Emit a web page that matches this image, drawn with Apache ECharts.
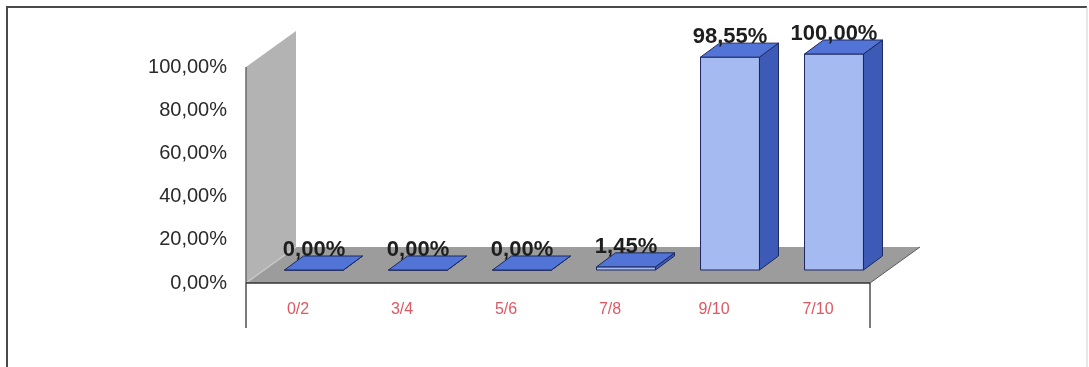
<!DOCTYPE html>
<html>
<head>
<meta charset="utf-8">
<script src="https://cdn.jsdelivr.net/npm/echarts@6/dist/echarts.min.js"></script>
<style>
  html, body { margin: 0; padding: 0; background: #fff; }
  #chart { width: 1089px; height: 367px; }
</style>
</head>
<body>
<div id="chart"></div>
<script>
// Share of students per grade band
const categories = ['0/2', '3/4', '5/6', '7/8', '9/10', '7/10'];
const shares = [0, 0, 0, 1.45, 98.55, 100];
const yTicks = [0, 20, 40, 60, 80, 100];

const fmt = v => v.toFixed(2).replace('.', ',') + '%';

// Oblique projection: how far the "depth" axis shifts things on screen
const WALL_DEPTH = [50, -36];   // full depth of the side wall / floor
const BAR_FRONT = [16, -13];    // bars sit a bit behind the front edge
const BAR_DEPTH = [19, -14];    // thickness of each bar
const BAR_RATIO = 0.567;        // bar width as a share of the category band

const chart = echarts.init(document.getElementById('chart'));

// Side wall, floor and the open box under the floor
function renderFrame(params, api) {
  const cs = params.coordSys;
  const y0 = api.coord([0, yTicks[0]])[1];
  const yTop = api.coord([0, yTicks[yTicks.length - 1]])[1];
  const xL = cs.x, xR = cs.x + cs.width;
  const [dx, dy] = WALL_DEPTH;
  const yLow = y0 + 45;
  return {
    type: 'group',
    children: [
      { type: 'polygon', shape: { points: [[xL, y0], [xL, yTop], [xL + dx, yTop + dy], [xL + dx, y0 + dy]] },
        style: { fill: '#b3b3b3', stroke: null } },
      { type: 'polygon', shape: { points: [[xL, y0], [xR, y0], [xR + dx, y0 + dy], [xL + dx, y0 + dy]] },
        style: { fill: '#9c9c9c', stroke: null } },
      { type: 'line', shape: { x1: xL, y1: y0, x2: xL + dx, y2: y0 + dy },
        style: { stroke: '#c9c9c9', lineWidth: 1.5 } },
      { type: 'line', shape: { x1: xR, y1: y0, x2: xR + dx, y2: y0 + dy },
        style: { stroke: '#5a5a5a', lineWidth: 1 } },
      { type: 'line', shape: { x1: xL, y1: yTop, x2: xL, y2: y0 },
        style: { stroke: '#6a6a6a', lineWidth: 1.5 } },
      { type: 'line', shape: { x1: xL, y1: y0, x2: xR, y2: y0 },
        style: { stroke: '#333', lineWidth: 1.5 } },
      { type: 'line', shape: { x1: xL, y1: y0, x2: xL, y2: yLow },
        style: { stroke: '#222', lineWidth: 1.2 } },
      { type: 'line', shape: { x1: xR, y1: y0, x2: xR, y2: yLow },
        style: { stroke: '#222', lineWidth: 1.2 } }
    ]
  };
}

// One prism per category, value label above its front face
function renderBar(params, api) {
  const idx = api.value(0);
  const v = api.value(1);
  const base = api.coord([idx, 0]);
  const top = api.coord([idx, v]);
  const w = api.size([1, 0])[0] * BAR_RATIO;
  const cx = base[0] + BAR_FRONT[0];
  const L = cx - w / 2, R = cx + w / 2;
  const yb = base[1] + BAR_FRONT[1];
  const yt = top[1] + BAR_FRONT[1];
  const [dx, dy] = BAR_DEPTH;
  const stroke = '#1c285e';
  return {
    type: 'group',
    children: [
      { type: 'polygon', shape: { points: [[L, yb], [R, yb], [R, yt], [L, yt]] },
        style: { fill: '#a6baf2', stroke, lineWidth: 1 } },
      { type: 'polygon', shape: { points: [[R, yb], [R + dx, yb + dy], [R + dx, yt + dy], [R, yt]] },
        style: { fill: '#3d5bb6', stroke, lineWidth: 1 } },
      { type: 'polygon', shape: { points: [[L, yt], [R, yt], [R + dx, yt + dy], [L + dx, yt + dy]] },
        style: { fill: '#5274d6', stroke, lineWidth: 1 } },
      { type: 'text', style: {
          text: fmt(v), x: cx, y: yt - 20, align: 'center', verticalAlign: 'middle',
          font: 'bold 22px "Liberation Sans", Arial, sans-serif', fill: '#1e1e1e' } }
    ]
  };
}

chart.setOption({
  animation: false,
  backgroundColor: '#ffffff',
  grid: { left: 246, right: 219, top: 67, bottom: 84, containLabel: false },
  xAxis: {
    type: 'category',
    data: categories,
    axisLine: { show: false },
    axisTick: { show: false },
    axisLabel: {
      margin: 19, color: '#dd5862', fontSize: 16,
      fontFamily: '"Liberation Sans", Arial, sans-serif'
    },
    splitLine: { show: false }
  },
  yAxis: {
    type: 'value',
    min: yTicks[0],
    max: yTicks[yTicks.length - 1],
    interval: yTicks[1] - yTicks[0],
    axisLine: { show: false },
    axisTick: { show: false },
    splitLine: { show: false },
    axisLabel: {
      margin: 19, color: '#2a2a2a', fontSize: 20,
      fontFamily: '"Liberation Sans", Arial, sans-serif',
      formatter: v => fmt(v)
    }
  },
  graphic: [
    { type: 'polyline', shape: { points: [[7, 372], [7, 7], [1087, 7]] },
      style: { fill: null, stroke: '#4a4a4a', lineWidth: 2 }, silent: true, z: 100 },
    { type: 'line', shape: { x1: 1087, y1: 7, x2: 1087, y2: 367 },
      style: { stroke: '#d0d0d0', lineWidth: 1 }, silent: true, z: 100 }
  ],
  series: [
    {
      type: 'custom', name: 'frame', z: 1, silent: true,
      renderItem: renderFrame,
      data: [[0, 0]]
    },
    {
      type: 'custom', name: 'share', z: 2,
      renderItem: renderBar,
      encode: { x: 0, y: 1 },
      data: shares.map((v, i) => [i, v])
    }
  ]
});
</script>
</body>
</html>
